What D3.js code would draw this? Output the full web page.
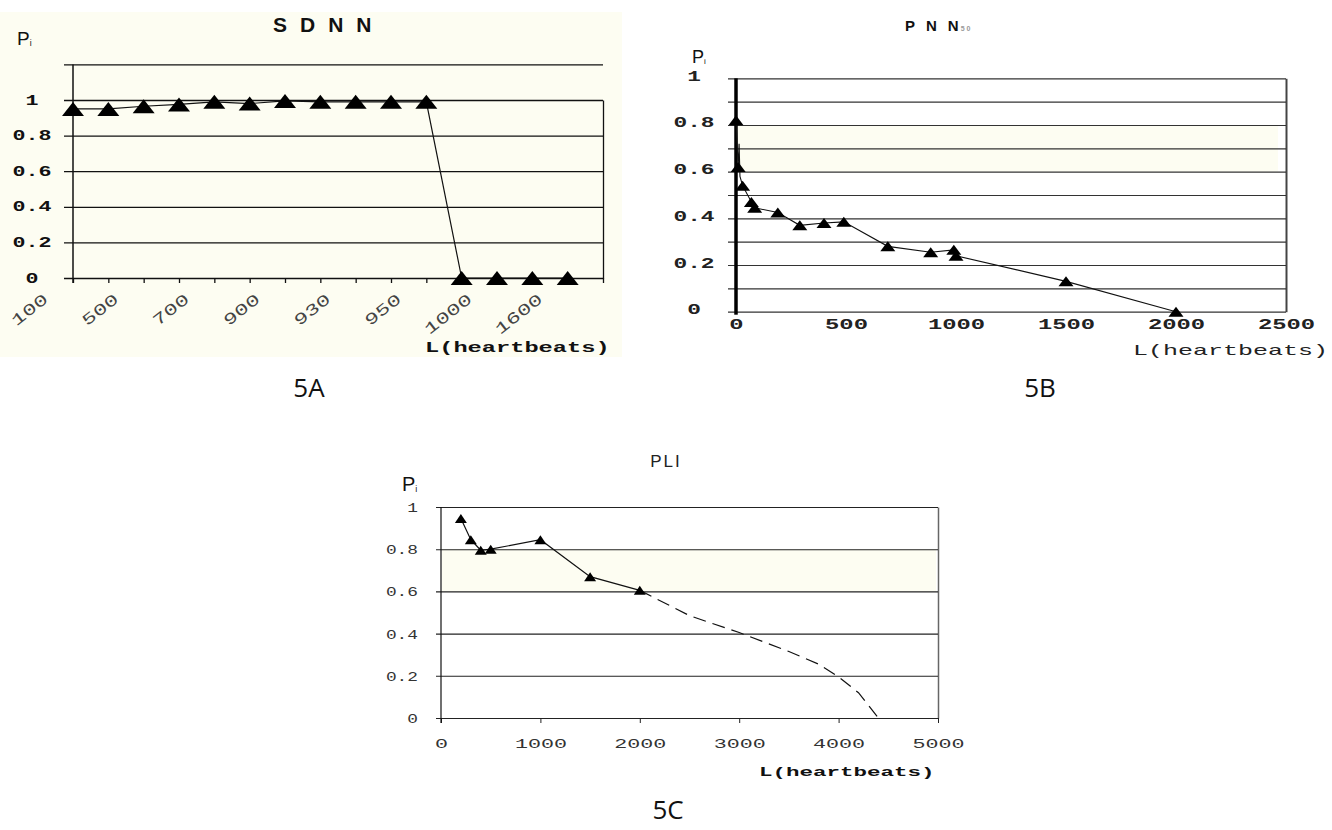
<!DOCTYPE html>
<html>
<head>
<meta charset="utf-8">
<script src="https://cdn.jsdelivr.net/npm/d3@7"></script>
<style>
  body { margin: 0; background: #fff; }
</style>
</head>
<body>
<svg id="fig" width="1332" height="830"></svg>
<script>
// values
// 5A - SDNN, 15 categories, every second one labelled
const sdnnTickLabels = ["100", "500", "700", "900", "930", "950", "1000", "1600"];
const sdnnP = [0.95, 0.95, 0.965, 0.975, 0.99, 0.98, 0.995, 0.99, 0.99, 0.99, 0.99, 0, 0, 0, 0];
const sdnnYTicks = [0, 0.2, 0.4, 0.6, 0.8, 1, 1.2];

// 5B - PNN50
const pnnL = [0, 10, 14, 18, 30, 70, 85, 190, 290, 400, 490, 690, 885, 990, 1000, 1500, 2000];
const pnnP = [0.82, 0.62, 0.72, 0.58, 0.54, 0.47, 0.445, 0.425, 0.37, 0.38, 0.385, 0.28, 0.255, 0.265, 0.24, 0.13, 0.0];
const pnnMarked = [1, 1, 0, 0, 1, 1, 1, 1, 1, 1, 1, 1, 1, 1, 1, 1, 1];
const pnnYTicks = [0, 0.1, 0.2, 0.3, 0.4, 0.5, 0.6, 0.7, 0.8, 0.9, 1];
const pnnXTicks = [0, 500, 1000, 1500, 2000, 2500];

// 5C - PLI (measured, then dashed extrapolation)
const pliL = [200, 300, 400, 500, 1000, 1500, 2000];
const pliP = [0.945, 0.845, 0.795, 0.80, 0.845, 0.67, 0.605];
const pliExtL = [2000, 2500, 3000, 3500, 3800, 4000, 4200, 4400];
const pliExtP = [0.605, 0.485, 0.405, 0.315, 0.255, 0.195, 0.12, 0];
const pliYTicks = [0, 0.2, 0.4, 0.6, 0.8, 1];
const pliXTicks = [0, 1000, 2000, 3000, 4000, 5000];

const svg = d3.select("#fig");
const mono = "'Liberation Mono', 'DejaVu Sans Mono', monospace";
const sans = "'Liberation Sans', Arial, sans-serif";
const cream = "#fdfdf2";

const tri = (w, h) => `M0,${-h / 2}L${w / 2},${h / 2}L${-w / 2},${h / 2}Z`;
const pFmt = d => (d === 0 ? "0" : d === 1 ? "1" : d3.format(".1f")(d));

// wide, stretched courier-like labels as in the scan
function styleMono(sel, size, perChar, weight, fill) {
  sel.attr("font-family", mono)
    .attr("font-size", size)
    .attr("font-weight", weight)
    .attr("fill", fill)
    .attr("lengthAdjust", "spacingAndGlyphs")
    .attr("textLength", function () { return this.textContent.length * perChar; });
}

function pLabel(x, y, size) {
  const t = svg.append("text").attr("x", x).attr("y", y)
    .attr("font-family", sans).attr("font-size", size).attr("fill", "#111");
  t.append("tspan").text("P");
  t.append("tspan").attr("font-size", size * 0.45).attr("dy", 1).text("i");
}

function caption(x, y, str) {
  svg.append("text").attr("x", x).attr("y", y).attr("text-anchor", "middle")
    .attr("font-family", "'Open Sans', 'Noto Sans', sans-serif").attr("font-size", 26)
    .attr("fill", "#111").text(str);
}

// ---------------- 5A ----------------
{
  const x = d3.scaleLinear().domain([0, 15]).range([73, 603]);
  const y = d3.scaleLinear().domain([0, 1]).range([278, 100]);

  svg.append("rect").attr("x", 0).attr("y", 12).attr("width", 622).attr("height", 345).attr("fill", cream);

  const gy = svg.append("g").attr("transform", "translate(603,0)")
    .call(d3.axisLeft(y).tickValues(sdnnYTicks).tickSizeInner(539).tickSizeOuter(0)
      .tickFormat(d => (d > 1 ? "" : pFmt(d))));
  gy.select(".domain").attr("stroke", "#111").attr("stroke-width", 1.3);
  gy.selectAll(".tick line").attr("stroke", "#111").attr("stroke-width", 1.3);
  gy.selectAll(".tick text").attr("x", 32 - 603).attr("dy", null).attr("y", 4)
    .attr("text-anchor", "middle")
    .call(styleMono, 14, 13, "bold", "#111");

  const gx = svg.append("g").attr("transform", `translate(0,${y(0)})`)
    .call(d3.axisBottom(x).tickValues(d3.range(16)).tickSizeInner(5).tickSizeOuter(0).tickFormat(""));
  gx.select(".domain").remove();
  gx.selectAll(".tick line").attr("stroke", "#111").attr("stroke-width", 1.3);

  svg.append("line").attr("x1", x(0)).attr("x2", x(0)).attr("y1", y(1.2)).attr("y2", y(0) + 5)
    .attr("stroke", "#111").attr("stroke-width", 1.5);

  svg.selectAll(".sdnnLab").data(sdnnTickLabels).join("text").attr("class", "sdnnLab")
    .attr("text-anchor", "end")
    .attr("transform", (d, i) => `translate(${x(i * 2) - 24},301) rotate(-38)`)
    .text(d => d)
    .call(styleMono, 16, 13.8, "normal", "#444");

  svg.append("path").datum(sdnnP)
    .attr("d", d3.line().x((d, i) => x(i)).y(d => y(d)))
    .attr("fill", "none").attr("stroke", "#111").attr("stroke-width", 1.2);

  svg.selectAll(".sdnnPt").data(sdnnP).join("path").attr("class", "sdnnPt")
    .attr("transform", (d, i) => `translate(${x(i)},${y(d)})`)
    .attr("d", tri(22, 14)).attr("fill", "#000");

  svg.append("text").attr("x", 273).attr("y", 32).attr("font-family", sans)
    .attr("font-size", 21).attr("font-weight", "bold").attr("letter-spacing", 13)
    .attr("fill", "#111").text("SDNN");

  pLabel(17, 45, 19);

  svg.append("text").attr("x", 425).attr("y", 352).text("L(heartbeats)")
    .call(styleMono, 14, 14.2, "bold", "#111");

  caption(309, 397, "5A");
}

// ---------------- 5B ----------------
{
  const x = d3.scaleLinear().domain([0, 2500]).range([736, 1286]);
  const y = d3.scaleLinear().domain([0, 1]).range([311.7, 78.3]);

  svg.append("rect").attr("x", x(0) + 1).attr("y", y(0.8)).attr("width", 1277 - x(0))
    .attr("height", y(0.6) - y(0.8)).attr("fill", cream);

  const gy = svg.append("g").attr("transform", "translate(1286,0)")
    .call(d3.axisLeft(y).tickValues(pnnYTicks).tickSizeInner(558).tickSizeOuter(0)
      .tickFormat(d => (Math.round(d * 10) % 2 === 0 ? pFmt(d) : "")));
  gy.select(".domain").attr("stroke", "#444").attr("stroke-width", 2);
  gy.selectAll(".tick line").attr("stroke", "#333").attr("stroke-width", 1.2);
  gy.selectAll(".tick text").attr("x", 694 - 1286).attr("dy", null).attr("y", 2)
    .attr("text-anchor", "middle")
    .call(styleMono, 15, 13.7, "bold", "#222");

  const gx = svg.append("g").attr("transform", `translate(0,${y(0)})`)
    .call(d3.axisBottom(x).tickValues(pnnXTicks).tickSize(0).tickPadding(0).tickFormat(d => d));
  gx.select(".domain").remove();
  gx.selectAll(".tick text").attr("dy", null).attr("y", 17)
    .call(styleMono, 15, 14.3, "bold", "#222");

  svg.append("line").attr("x1", x(0)).attr("x2", x(0)).attr("y1", y(1)).attr("y2", y(0) + 3)
    .attr("stroke", "#000").attr("stroke-width", 3.5);

  const pts = pnnL.map((l, i) => ({ l, p: pnnP[i], m: pnnMarked[i] }));
  svg.append("path").datum(pts)
    .attr("d", d3.line().x(d => x(d.l)).y(d => y(d.p)))
    .attr("fill", "none").attr("stroke", "#111").attr("stroke-width", 1.1);

  svg.selectAll(".pnnPt").data(pts.filter(d => d.m)).join("path").attr("class", "pnnPt")
    .attr("transform", d => `translate(${x(d.l)},${y(d.p)})`)
    .attr("d", tri(15, 10)).attr("fill", "#000");

  const t = svg.append("text").attr("x", 905).attr("y", 31).attr("font-family", sans)
    .attr("font-size", 15).attr("font-weight", "bold").attr("fill", "#111");
  t.append("tspan").attr("letter-spacing", 11).text("PN");
  t.append("tspan").text("N");
  t.append("tspan").attr("font-size", 7).attr("fill", "#999").attr("dx", 2).attr("letter-spacing", 2).text("50");

  pLabel(692, 63, 18);

  svg.append("text").attr("x", 1133).attr("y", 355).text("L(heartbeats)")
    .call(styleMono, 15, 15, "normal", "#222");

  caption(1040, 397, "5B");
}

// ---------------- 5C ----------------
{
  const x = d3.scaleLinear().domain([0, 5000]).range([441, 938]);
  const y = d3.scaleLinear().domain([0, 1]).range([718, 507]);

  svg.append("rect").attr("x", x(0) + 1).attr("y", y(0.8)).attr("width", 935 - x(0))
    .attr("height", y(0.6) - y(0.8)).attr("fill", cream);

  const gy = svg.append("g").attr("transform", "translate(938,0)")
    .call(d3.axisLeft(y).tickValues(pliYTicks).tickSizeInner(502).tickSizeOuter(0).tickFormat(pFmt));
  gy.select(".domain").attr("stroke", "#666").attr("stroke-width", 1.5);
  gy.selectAll(".tick line").attr("stroke", "#222").attr("stroke-width", 1.1);
  gy.selectAll(".tick text").attr("x", 418 - 938).attr("dy", null).attr("y", 4.5)
    .attr("text-anchor", "end")
    .call(styleMono, 13, 10.7, "normal", "#333");

  const gx = svg.append("g").attr("transform", `translate(0,${y(0)})`)
    .call(d3.axisBottom(x).tickValues(pliXTicks).tickSizeInner(5).tickSizeOuter(0).tickFormat(d => d));
  gx.select(".domain").attr("stroke", "#222").attr("stroke-width", 1.1);
  gx.selectAll(".tick line").attr("stroke", "#222");
  gx.selectAll(".tick text").attr("dy", null).attr("y", 30)
    .call(styleMono, 13, 13, "normal", "#333");

  svg.append("line").attr("x1", x(0)).attr("x2", x(0)).attr("y1", y(1)).attr("y2", y(0) + 5)
    .attr("stroke", "#111").attr("stroke-width", 1.2);

  const line = d3.line().x(d => x(d[0])).y(d => y(d[1]));
  svg.append("path").datum(pliL.map((l, i) => [l, pliP[i]]))
    .attr("d", line).attr("fill", "none").attr("stroke", "#111").attr("stroke-width", 1.2);
  svg.append("path").datum(pliExtL.map((l, i) => [l, pliExtP[i]]))
    .attr("d", line).attr("fill", "none").attr("stroke", "#111").attr("stroke-width", 1.2)
    .attr("stroke-dasharray", "13,7");

  svg.selectAll(".pliPt").data(pliL).join("path").attr("class", "pliPt")
    .attr("transform", (d, i) => `translate(${x(d)},${y(pliP[i])})`)
    .attr("d", tri(12, 9)).attr("fill", "#000");

  svg.append("text").attr("x", 666).attr("y", 467).attr("text-anchor", "middle")
    .attr("font-family", sans).attr("font-size", 17).attr("letter-spacing", 2)
    .attr("fill", "#222").text("PLI");

  pLabel(402, 491, 20);

  svg.append("text").attr("x", 759).attr("y", 776).text("L(heartbeats)")
    .call(styleMono, 13, 13.5, "bold", "#111");

  caption(668, 819, "5C");
}
</script>
</body>
</html>
